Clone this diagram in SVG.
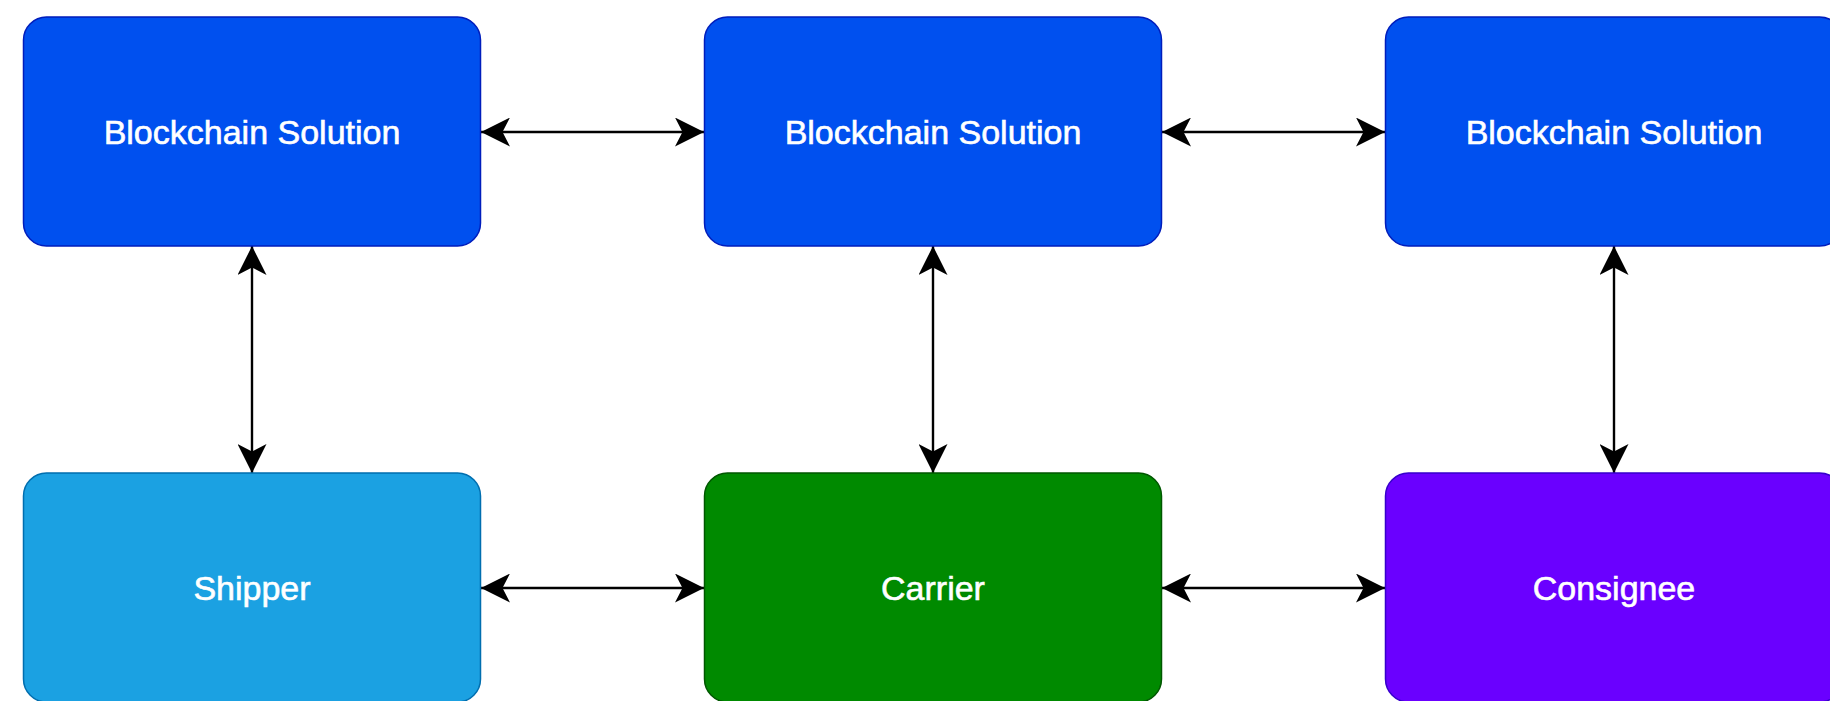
<svg xmlns="http://www.w3.org/2000/svg" width="1830" height="701" viewBox="0 0 1830 701">
  <style>
    .box { stroke-width: 1.5; }
    .blue { fill: #0050EF; stroke: #001DBC; }
    .ship { fill: #1BA1E2; stroke: #006EAF; }
    .carr { fill: #008A00; stroke: #005700; }
    .cons { fill: #6A00FF; stroke: #3700CC; }
    .lbl { font-family: "Liberation Sans", Arial, Helvetica, sans-serif; font-size: 34px; fill: #FFFFFF; stroke: #FFFFFF; stroke-width: 0.6; text-anchor: middle; dominant-baseline: central; }
    .conn { stroke: #000000; stroke-width: 2.4; fill: none; marker-start: url(#ah); marker-end: url(#ah); }
  </style>
  <defs>
    <marker id="ah" markerUnits="userSpaceOnUse" markerWidth="29" markerHeight="29" viewBox="0 0 29 29" refX="29" refY="14.5" orient="auto-start-reverse">
      <path d="M29,14.5 L0,0 L7.5,14.5 L0,29 Z" fill="#000000"/>
    </marker>
  </defs>
  <rect width="1830" height="701" fill="#FFFFFF"/>

  <g id="connectors">
    <line class="conn" x1="481" y1="132" x2="704" y2="132"/>
    <line class="conn" x1="1162" y1="132" x2="1385" y2="132"/>
    <line class="conn" x1="481" y1="588" x2="704" y2="588"/>
    <line class="conn" x1="1162" y1="588" x2="1385" y2="588"/>
    <line class="conn" x1="252" y1="246" x2="252" y2="473"/>
    <line class="conn" x1="933" y1="246" x2="933" y2="473"/>
    <line class="conn" x1="1614" y1="246" x2="1614" y2="473"/>
  </g>

  <g id="blockchain1">
    <rect class="box blue" x="23.5" y="17" width="457" height="229" rx="23" ry="23"/>
    <text class="lbl" x="252" y="131.5">Blockchain Solution</text>
  </g>
  <g id="blockchain2">
    <rect class="box blue" x="704.5" y="17" width="457" height="229" rx="23" ry="23"/>
    <text class="lbl" x="933" y="131.5">Blockchain Solution</text>
  </g>
  <g id="blockchain3">
    <rect class="box blue" x="1385.5" y="17" width="457" height="229" rx="23" ry="23"/>
    <text class="lbl" x="1614" y="131.5">Blockchain Solution</text>
  </g>
  <g id="shipper">
    <rect class="box ship" x="23.5" y="473" width="457" height="229" rx="23" ry="23"/>
    <text class="lbl" x="252" y="587.5">Shipper</text>
  </g>
  <g id="carrier">
    <rect class="box carr" x="704.5" y="473" width="457" height="229" rx="23" ry="23"/>
    <text class="lbl" x="933" y="587.5">Carrier</text>
  </g>
  <g id="consignee">
    <rect class="box cons" x="1385.5" y="473" width="457" height="229" rx="23" ry="23"/>
    <text class="lbl" x="1614" y="587.5">Consignee</text>
  </g>
</svg>
